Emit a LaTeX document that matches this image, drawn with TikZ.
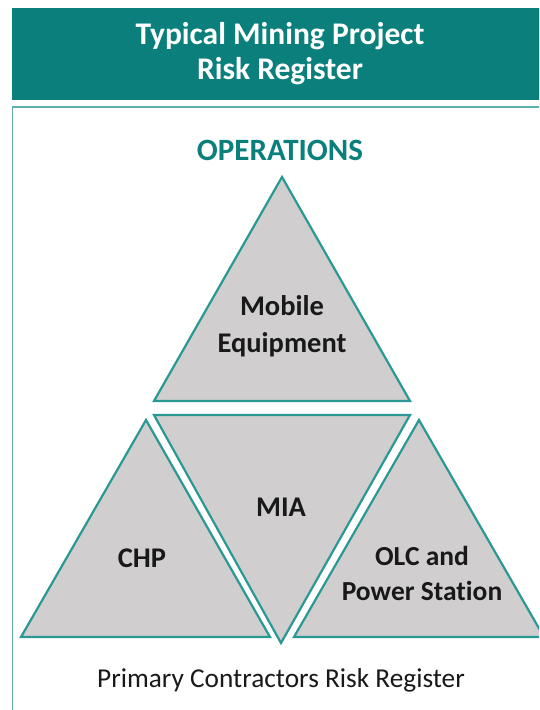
\documentclass[tikz,border=0pt]{standalone}
\usepackage{fontspec}
\setmainfont{Carlito}[Ligatures=NoCommon]
\usetikzlibrary{positioning}
\definecolor{headteal}{HTML}{0A7F7B}
\definecolor{edgeteal}{HTML}{2A9893}
\definecolor{frameteal}{HTML}{5FB0AD}
\definecolor{trigrey}{HTML}{D0CECE}

\begin{document}
\begin{tikzpicture}[x=1pt, y=-1pt,
  tri/.style={fill=trigrey, draw=edgeteal, line width=2.2pt},
  lbl/.style={font=\bfseries\fontsize{28.5}{37}\selectfont, align=center, text=black!90}]
  \useasboundingbox (0,0) rectangle (539,710);
  \clip (0,0) rectangle (539,710);

  % header band and frame
  \fill[headteal] (12,8) rectangle (560,100);
  \draw[frameteal, line width=1.4pt] (12.7,107) rectangle (560,730);
  \node (title) at (280,54) [text=white, font=\bfseries\fontsize{31.5}{35}\selectfont, align=center]
    {Typical Mining Project\\Risk Register};
  \node (ops) at (280,150) [text=headteal, font=\bfseries\fontsize{31}{32}\selectfont]
    {OPERATIONS};

  % triangles
  \filldraw[tri] (282,177) -- (410,401) -- (154,401) -- cycle;
  \filldraw[tri] (154,415) -- (410,415) -- (281,643) -- cycle;
  \filldraw[tri] (146,420) -- (270,637) -- (21,637) -- cycle;
  \filldraw[tri] (419,420) -- (544,637) -- (294,637) -- cycle;

  \node (mobile) at (282,326) [lbl] {Mobile\\Equipment};
  \node (mia)    at (281,507) [lbl] {MIA};
  \node (chp)    at (142,558) [lbl] {CHP};
  \node (olc)    at (422,573) [lbl, font=\bfseries\fontsize{27.5}{35}\selectfont] {OLC and\\Power Station};

  \node (primary) at (281,680) [font=\fontsize{27.3}{28}\selectfont, text=black!90]
    {Primary Contractors Risk Register};
\end{tikzpicture}
\end{document}
